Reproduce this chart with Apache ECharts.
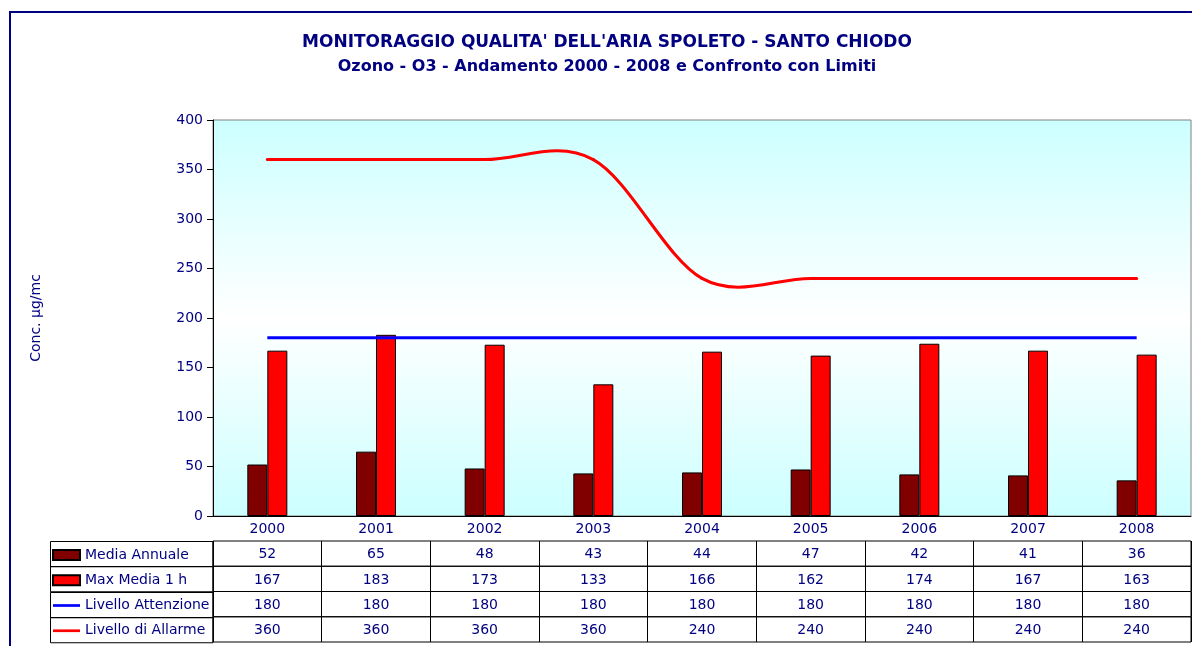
<!DOCTYPE html>
<html>
<head>
<meta charset="utf-8">
<script src="https://cdn.jsdelivr.net/npm/echarts@6/dist/echarts.min.js"></script>
<style>
  html, body { margin: 0; padding: 0; background: #fff; }
  #chart { width: 1192px; height: 646px; }
</style>
</head>
<body>
<div id="chart"></div>
<script>
// dati
const years = ['2000', '2001', '2002', '2003', '2004', '2005', '2006', '2007', '2008']
const mediaAnnuale = [52, 65, 48, 43, 44, 47, 42, 41, 36]
const maxMedia1h = [167, 183, 173, 133, 166, 162, 174, 167, 163]
const livelloAttenzione = [180, 180, 180, 180, 180, 180, 180, 180, 180]
const livelloAllarme = [360, 360, 360, 360, 240, 240, 240, 240, 240]
const seriesNames = ['Media Annuale', 'Max Media 1 h', 'Livello Attenzione', 'Livello di Allarme']

const navy = '#000080'
const font = '"DejaVu Sans", sans-serif'
const tableRows = [mediaAnnuale, maxMedia1h, livelloAttenzione, livelloAllarme]
const rowTop = 541
const rowH = 25.25
const lineIcon = 'path://M0,0H30V3H0Z'

const myChart = echarts.init(document.getElementById('chart'))

const grids = [{
  left: 213, right: 1, top: 120, height: 396,
  show: true, borderColor: '#808080', borderWidth: 1,
  backgroundColor: new echarts.graphic.LinearGradient(0, 0, 0, 1, [
    { offset: 0, color: '#ccffff' },
    { offset: 0.5, color: '#ffffff' },
    { offset: 1, color: '#ccffff' }
  ])
}]
const xAxes = [{
  gridIndex: 0, type: 'category', data: years,
  axisLine: { lineStyle: { color: '#000', width: 1 } },
  axisTick: { length: 25, lineStyle: { color: '#000' } },
  axisLabel: { interval: 0, color: navy, fontSize: 14, fontFamily: font, margin: 13, verticalAlign: 'middle' }
}]
const yAxes = [{
  gridIndex: 0, type: 'value', min: 0, max: 400, interval: 50,
  name: 'Conc. µg/mc', nameLocation: 'middle', nameGap: 170,
  nameTextStyle: { color: navy, fontSize: 14, fontFamily: font },
  axisLine: { show: true, lineStyle: { color: '#000' } },
  axisTick: { show: true, length: 6, lineStyle: { color: '#000' } },
  axisLabel: { color: navy, fontSize: 14, fontFamily: font, margin: 10 },
  splitLine: { show: false }
}]

// righe della tabella dati: una griglia per riga
const graphics = [{
  type: 'rect', silent: true,
  shape: { x: 10, y: 12, width: 1300, height: 800 },
  style: { fill: 'none', stroke: '#000080', lineWidth: 2 }
}]
tableRows.forEach((row, i) => {
  const top = rowTop + i * rowH
  grids.push({ left: 213, right: 1, top: top, height: rowH, show: true, borderColor: '#000', borderWidth: 1 })
  xAxes.push({
    gridIndex: i + 1, type: 'category', data: years,
    axisLine: { show: false }, axisTick: { show: false },
    splitLine: { show: true, lineStyle: { color: '#000' } },
    axisLabel: {
      interval: 0, color: navy, fontSize: 14, fontFamily: font,
      margin: -11.5, verticalAlign: 'middle',
      formatter: (v, idx) => String(row[idx])
    }
  })
  yAxes.push({ gridIndex: i + 1, type: 'value', show: false })
  graphics.push({
    type: 'rect', silent: true,
    shape: { x: 50.5, y: Math.round(top) + 0.5, width: 162.5, height: rowH },
    style: { fill: 'none', stroke: '#000', lineWidth: 1 }
  })
})

// curva smussata come Excel (Catmull-Rom), con sovraelongazione
function renderAllarme (params, api) {
  if (params.dataIndex !== 0) return
  const pts = livelloAllarme.map((v, i) => api.coord([i, v]))
  const n = pts.length
  const children = []
  for (let i = 0; i < n - 1; i++) {
    const p0 = pts[Math.max(i - 1, 0)]
    const p1 = pts[i]
    const p2 = pts[i + 1]
    const p3 = pts[Math.min(i + 2, n - 1)]
    children.push({
      type: 'bezierCurve',
      shape: {
        x1: p1[0], y1: p1[1], x2: p2[0], y2: p2[1],
        cpx1: p1[0] + (p2[0] - p0[0]) / 6, cpy1: p1[1] + (p2[1] - p0[1]) / 6,
        cpx2: p2[0] - (p3[0] - p1[0]) / 6, cpy2: p2[1] - (p3[1] - p1[1]) / 6
      },
      style: { fill: null, stroke: '#ff0000', lineWidth: 3, lineCap: 'round' }
    })
  }
  return { type: 'group', children: children }
}

const option = {
  animation: false,
  backgroundColor: '#fff',
  title: {
    text: "MONITORAGGIO QUALITA' DELL'ARIA SPOLETO - SANTO CHIODO",
    subtext: 'Ozono - O3 - Andamento 2000 - 2008 e Confronto con Limiti',
    left: 607, top: 34, textAlign: 'center', itemGap: 8, padding: 0,
    textStyle: { color: navy, fontSize: 17, fontWeight: 'bold', fontFamily: font },
    subtextStyle: { color: navy, fontSize: 16, fontWeight: 'bold', fontFamily: font }
  },
  legend: {
    orient: 'vertical', left: 52, top: 548, padding: 0,
    itemWidth: 27, itemHeight: 10, itemGap: 11.25,
    textStyle: { color: navy, fontSize: 14, fontFamily: font },
    data: [
      { name: seriesNames[0], icon: 'rect' },
      { name: seriesNames[1], icon: 'rect' },
      { name: seriesNames[2], icon: lineIcon },
      { name: seriesNames[3], icon: lineIcon }
    ]
  },
  grid: grids,
  xAxis: xAxes,
  yAxis: yAxes,
  graphic: graphics,
  series: [
    {
      name: seriesNames[0], type: 'bar', data: mediaAnnuale,
      barWidth: 20, barGap: '0%',
      itemStyle: { color: '#800000', borderColor: '#000', borderWidth: 1 }
    },
    {
      name: seriesNames[1], type: 'bar', data: maxMedia1h,
      barWidth: 20, barGap: '0%',
      itemStyle: { color: '#ff0000', borderColor: '#000', borderWidth: 1 }
    },
    {
      name: seriesNames[2], type: 'line', data: livelloAttenzione,
      symbol: 'none', z: 3,
      lineStyle: { color: '#0000ff', width: 3 }, itemStyle: { color: '#0000ff' }
    },
    {
      name: seriesNames[3], type: 'custom', coordinateSystem: 'cartesian2d',
      data: livelloAllarme.map((v, i) => [i, v]),
      encode: { x: 0, y: 1 }, z: 3,
      itemStyle: { color: '#ff0000' },
      renderItem: renderAllarme
    }
  ]
}

myChart.setOption(option)
</script>
</body>
</html>
